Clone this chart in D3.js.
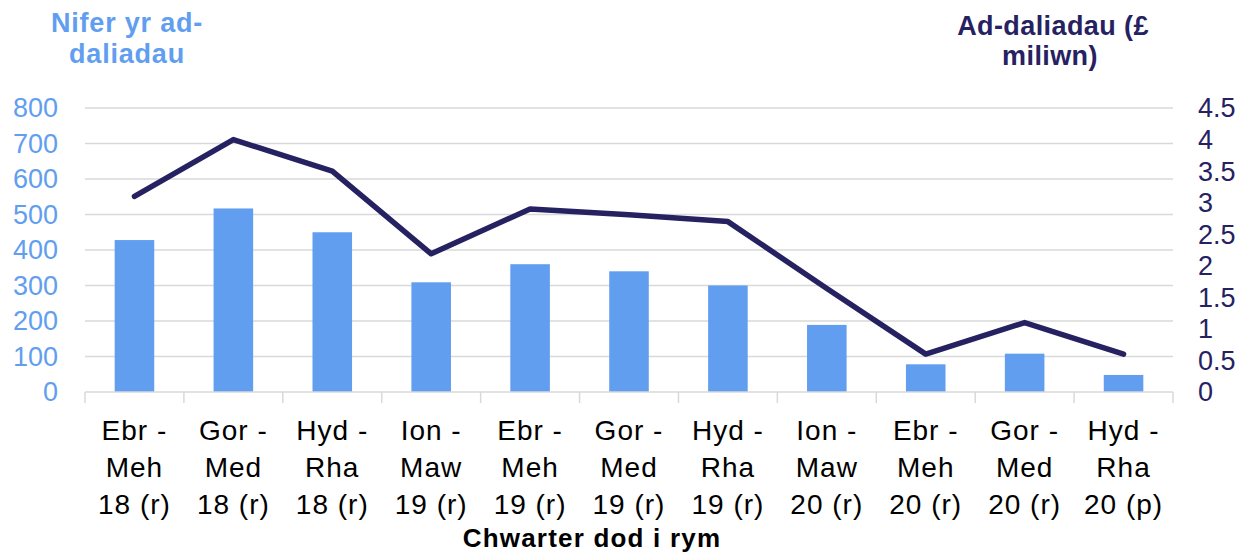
<!DOCTYPE html>
<html>
<head>
<meta charset="utf-8">
<script src="https://cdn.jsdelivr.net/npm/d3@7"></script>
<style>
  body { margin: 0; background: #fff; }
  svg { font-family: "Liberation Sans", Arial, sans-serif; }
</style>
</head>
<body>
<div id="wrapper"></div>
<script>
// data
const quarters = [
  ["Ebr -", "Meh", "18 (r)"],
  ["Gor -", "Med", "18 (r)"],
  ["Hyd -", "Rha", "18 (r)"],
  ["Ion -", "Maw", "19 (r)"],
  ["Ebr -", "Meh", "19 (r)"],
  ["Gor -", "Med", "19 (r)"],
  ["Hyd -", "Rha", "19 (r)"],
  ["Ion -", "Maw", "20 (r)"],
  ["Ebr -", "Meh", "20 (r)"],
  ["Gor -", "Med", "20 (r)"],
  ["Hyd -", "Rha", "20 (p)"],
]
const repaymentCount = [428, 517, 450, 309, 360, 340, 300, 189, 78, 108, 48]
const repaymentValue = [3.1, 4.0, 3.5, 2.19, 2.9, 2.81, 2.7, 1.64, 0.6, 1.1, 0.6]
const leftTicks = [0, 100, 200, 300, 400, 500, 600, 700, 800]
const rightTicks = [0, 0.5, 1, 1.5, 2, 2.5, 3, 3.5, 4, 4.5]

const blue = "#619ef0"
const navy = "#262262"
const grid = "#d9d9d9"

let dimensions = {
  width: 1247,
  height: 553,
  margin: { top: 108, right: 74, bottom: 161, left: 85 },
}
dimensions.boundedWidth = dimensions.width - dimensions.margin.left - dimensions.margin.right
dimensions.boundedHeight = dimensions.height - dimensions.margin.top - dimensions.margin.bottom

const wrapper = d3.select("#wrapper")
  .append("svg")
    .attr("width", dimensions.width)
    .attr("height", dimensions.height)

const bounds = wrapper.append("g")
  .attr("transform", `translate(${dimensions.margin.left},${dimensions.margin.top})`)

// scales
const idx = d3.range(quarters.length)
const xScale = d3.scaleBand()
  .domain(idx)
  .range([0, dimensions.boundedWidth])
  .paddingInner(0.6)
  .paddingOuter(0.3)
const xBand = d3.scaleBand()
  .domain(idx)
  .range([0, dimensions.boundedWidth])
const yLeft = d3.scaleLinear()
  .domain([0, 800])
  .range([dimensions.boundedHeight, 0])
const yRight = d3.scaleLinear()
  .domain([0, 4.5])
  .range([dimensions.boundedHeight, 0])

// gridlines
bounds.append("g")
  .selectAll("line")
  .data(leftTicks.slice(1))
  .join("line")
    .attr("x1", 0)
    .attr("x2", dimensions.boundedWidth)
    .attr("y1", d => yLeft(d))
    .attr("y2", d => yLeft(d))
    .attr("stroke", grid)
    .attr("stroke-width", 1.5)

// bars
bounds.append("g")
  .selectAll("rect")
  .data(repaymentCount)
  .join("rect")
    .attr("x", (d, i) => xScale(i))
    .attr("width", xScale.bandwidth())
    .attr("y", d => yLeft(d))
    .attr("height", d => dimensions.boundedHeight - yLeft(d))
    .attr("fill", blue)

// x axis
const xAxis = bounds.append("g")
  .attr("transform", `translate(0,${dimensions.boundedHeight})`)
xAxis.append("line")
  .attr("x1", 0)
  .attr("x2", dimensions.boundedWidth)
  .attr("stroke", grid)
  .attr("stroke-width", 1.5)
xAxis.selectAll(".tick")
  .data(d3.range(quarters.length + 1))
  .join("line")
    .attr("class", "tick")
    .attr("x1", d => d * xBand.bandwidth())
    .attr("x2", d => d * xBand.bandwidth())
    .attr("y1", 0)
    .attr("y2", 11)
    .attr("stroke", grid)
    .attr("stroke-width", 1.5)

const xLabels = xAxis.selectAll(".xlabel")
  .data(quarters)
  .join("text")
    .attr("class", "xlabel")
    .attr("text-anchor", "middle")
    .attr("font-size", 28)
    .attr("letter-spacing", 1)
    .attr("fill", "#000")
xLabels.selectAll("tspan")
  .data((d, i) => d.map(t => ({ t, i })))
  .join("tspan")
    .attr("x", d => xBand(d.i) + xBand.bandwidth() / 2)
    .attr("y", (d, j) => 48 + j * 37)
    .text(d => d.t)

// line
const lineGenerator = d3.line()
  .x((d, i) => xBand(i) + xBand.bandwidth() / 2)
  .y(d => yRight(d))
bounds.append("path")
  .datum(repaymentValue)
  .attr("d", lineGenerator)
  .attr("fill", "none")
  .attr("stroke", navy)
  .attr("stroke-width", 5.5)
  .attr("stroke-linejoin", "round")
  .attr("stroke-linecap", "round")

// left axis labels
bounds.append("g")
  .selectAll("text")
  .data(leftTicks)
  .join("text")
    .attr("x", -27)
    .attr("y", d => yLeft(d))
    .attr("dy", "0.35em")
    .attr("text-anchor", "end")
    .attr("font-size", 27)
    .attr("fill", blue)
    .text(d => d)

// right axis labels
bounds.append("g")
  .selectAll("text")
  .data(rightTicks)
  .join("text")
    .attr("x", dimensions.boundedWidth + 25)
    .attr("y", d => yRight(d))
    .attr("dy", "0.35em")
    .attr("text-anchor", "start")
    .attr("font-size", 27)
    .attr("fill", navy)
    .text(d => d)

// titles
const leftTitle = wrapper.append("text")
  .attr("text-anchor", "middle")
  .attr("font-size", 27)
  .attr("font-weight", "bold")
  .attr("letter-spacing", 0.8)
  .attr("fill", blue)
leftTitle.append("tspan").attr("x", 127).attr("y", 32).text("Nifer yr ad-")
leftTitle.append("tspan").attr("x", 127).attr("y", 63).text("daliadau")

const rightTitle = wrapper.append("text")
  .attr("text-anchor", "middle")
  .attr("font-size", 27)
  .attr("font-weight", "bold")
  .attr("letter-spacing", 0.4)
  .attr("fill", navy)
rightTitle.append("tspan").attr("x", 1053).attr("y", 35).text("Ad-daliadau (£")
rightTitle.append("tspan").attr("x", 1050).attr("y", 65).text("miliwn)")

wrapper.append("text")
  .attr("x", 592)
  .attr("y", 547)
  .attr("text-anchor", "middle")
  .attr("font-size", 26)
  .attr("font-weight", "bold")
  .attr("letter-spacing", 1.2)
  .attr("fill", "#000")
  .text("Chwarter dod i rym")
</script>
</body>
</html>
